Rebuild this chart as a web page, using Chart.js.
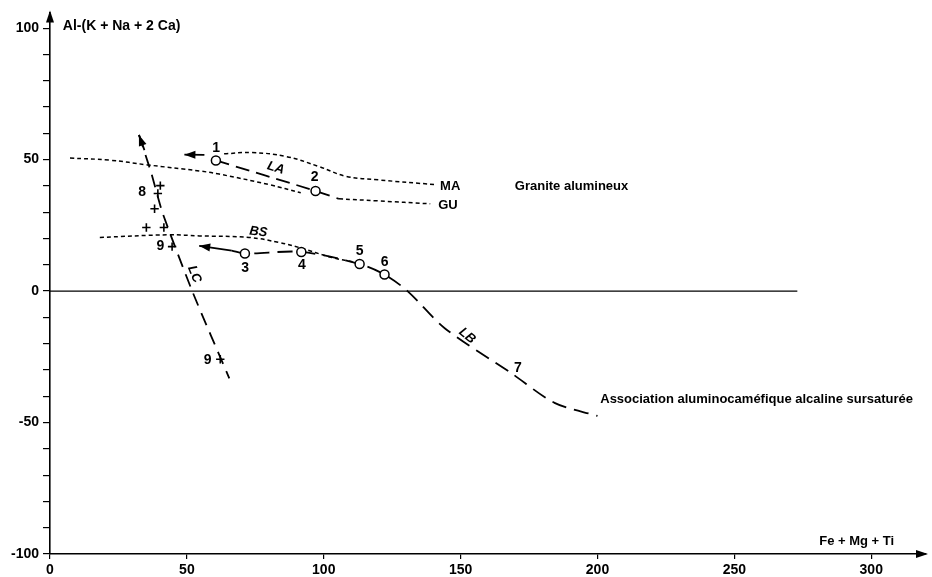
<!DOCTYPE html>
<html>
<head>
<meta charset="utf-8">
<script src="https://cdn.jsdelivr.net/npm/chart.js@4.4.1/dist/chart.umd.min.js"></script>
<style>
  html, body { margin: 0; padding: 0; background: #fff; }
  canvas { display: block; }
</style>
</head>
<body>
<canvas id="chart" width="932" height="577"></canvas>
<script>
// Axis ticks
const xTicks = [0, 50, 100, 150, 200, 250, 300];
const yTicks = [-100, -90, -80, -70, -60, -50, -40, -30, -20, -10, 0, 10, 20, 30, 40, 50, 60, 70, 80, 90, 100];
const yTickLabels = [-100, -50, 0, 50, 100];

// Samples: [Fe + Mg + Ti, Al-(K + Na + 2 Ca)]
const circlePts = [[60.6, 49.7], [97.0, 38.1], [71.2, 14.3], [91.8, 14.9], [113.1, 10.3], [122.2, 6.3]];
const crossPts = [[40.3, 40.1], [39.4, 37.1], [38.2, 31.3], [35.2, 24.2], [41.6, 24.2], [44.6, 16.9], [62.2, -25.9]];

// Reference curves (dotted)
const maCurve = [[63.6, 52.2], [73.8, 52.7], [86.2, 51.2], [98.2, 47.4], [108, 43.7], [120, 42.3], [140.7, 40.5]];
const guWest = [[7.3, 50.6], [21.8, 49.8], [35.6, 48.0], [54.5, 45.7], [61.8, 44.5], [80, 40.5], [91.6, 37.4]];
const guEast = [[105.5, 35.1], [120, 34.3], [138.9, 33.2]];
const bsCurve = [[18.2, 20.4], [43.6, 21.4], [54.5, 21.0], [72.7, 20.4], [83.6, 18.5], [90.9, 16.6], [102.9, 12.8], [111.6, 10.9]];

// Trends (dashed)
const laLine = [[60.6, 49.7], [97.0, 38.1], [105.5, 35.1]];
const lbLine = [[66.4, 15.4], [71.2, 14.3], [91.8, 14.9], [113.1, 10.3], [122.2, 6.3], [130.7, -0.1], [144.3, -14.2], [168.5, -31.2], [184.3, -42.5], [200, -47.5]];
const lcLine = [[32.5, 59.4], [37.0, 44.9], [41.1, 29.8], [52.1, -0.4], [65.5, -33.2]];
const zeroLine = [[0, 0], [273, 0]];

// Arrows: tail -> tip
const arrowLA = [[56.4, 51.8], [49.1, 51.9]];
const arrowLB = [[66.4, 15.4], [54.5, 17.2]];
const arrowLC = [[34.5, 53.6], [32.5, 59.4]];

// Text: [text, x, y]
const pointLabels = [
  ['1', 60.7, 54.3], ['2', 96.7, 43.4], ['3', 71.3, 8.7], ['4', 92, 9.8],
  ['5', 113.1, 15.1], ['6', 122.2, 10.9], ['7', 170.9, -29.4],
  ['8', 33.7, 37.7], ['9', 40.3, 17], ['9', 57.6, -26.2]
];
const sideLabels = [
  ['MA', 142.5, 40], ['GU', 141.8, 32.5],
  ['Granite alumineux', 169.8, 40],
  ['Association aluminocaméfique alcaline sursaturée', 201, -41.1],
  ['Al-(K + Na + 2 Ca)', 4.7, 100.8],
  ['Fe + Mg + Ti', 281, -95.4]
];
// [text, x, y, rotation in degrees]
const trendLabels = [['LA', 82.5, 46.8, 17], ['BS', 76.1, 22.5, 7], ['LC', 52.7, 6.4, 68], ['LB', 152.4, -17.0, 40]];

const toXY = arr => arr.map(p => ({ x: p[0], y: p[1] }));
const FONT = '"Liberation Sans", Arial, sans-serif';

function lineSet(pts, dash, width, tension) {
  return {
    data: toXY(pts),
    showLine: true,
    borderColor: '#000',
    borderWidth: width,
    borderDash: dash,
    pointRadius: 0,
    tension: tension,
    fill: false
  };
}

// draw a filled arrowhead pointing from (x0,y0) to (x1,y1)
function arrowHead(ctx, x0, y0, x1, y1, len, half) {
  const a = Math.atan2(y1 - y0, x1 - x0);
  ctx.beginPath();
  ctx.moveTo(x1, y1);
  ctx.lineTo(x1 - len * Math.cos(a) + half * Math.sin(a), y1 - len * Math.sin(a) - half * Math.cos(a));
  ctx.lineTo(x1 - len * Math.cos(a) - half * Math.sin(a), y1 - len * Math.sin(a) + half * Math.cos(a));
  ctx.closePath();
  ctx.fill();
}

const overlay = {
  id: 'overlay',
  afterDatasetsDraw(chart) {
    const { ctx, chartArea } = chart;
    const xs = chart.scales.x, ys = chart.scales.y;
    ctx.save();
    ctx.fillStyle = '#000';

    // axis arrows
    const ax = xs.getPixelForValue(0);
    const ay = ys.getPixelForValue(-100);
    arrowHead(ctx, ax, chartArea.top + 20, ax, chartArea.top - 2, 12, 4);
    arrowHead(ctx, chartArea.right - 20, ay, chartArea.right + 2, ay, 12, 4);

    // trend arrows
    [arrowLA, arrowLB, arrowLC].forEach(a => {
      arrowHead(ctx,
        xs.getPixelForValue(a[0][0]), ys.getPixelForValue(a[0][1]),
        xs.getPixelForValue(a[1][0]), ys.getPixelForValue(a[1][1]), 11, 4);
    });

    ctx.textBaseline = 'middle';
    ctx.font = 'bold 14px ' + FONT;
    ctx.textAlign = 'center';
    pointLabels.forEach(l => {
      ctx.fillText(l[0], xs.getPixelForValue(l[1]), ys.getPixelForValue(l[2]));
    });

    ctx.textAlign = 'left';
    sideLabels.forEach(l => {
      ctx.font = (l[0].startsWith('Al-') ? 'bold 14px ' : 'bold 13px ') + FONT;
      ctx.fillText(l[0], xs.getPixelForValue(l[1]), ys.getPixelForValue(l[2]));
    });

    ctx.font = 'italic bold 13px ' + FONT;
    ctx.textAlign = 'center';
    trendLabels.forEach(l => {
      ctx.save();
      ctx.translate(xs.getPixelForValue(l[1]), ys.getPixelForValue(l[2]));
      ctx.rotate(l[3] * Math.PI / 180);
      ctx.fillText(l[0], 0, 0);
      ctx.restore();
    });
    ctx.restore();
  }
};

new Chart(document.getElementById('chart'), {
  type: 'scatter',
  data: {
    datasets: [
      {
        data: toXY(circlePts),
        pointStyle: 'circle',
        pointRadius: 4.5,
        pointBackgroundColor: '#fff',
        pointBorderColor: '#000',
        pointBorderWidth: 1.5
      },
      {
        data: toXY(crossPts),
        pointStyle: 'cross',
        pointRadius: 4.2,
        pointBorderColor: '#000',
        pointBorderWidth: 1.6
      },
      lineSet(arrowLA, [], 1.8, 0),
      lineSet(arrowLB, [], 1.8, 0),
      lineSet(arrowLC, [], 1.8, 0),
      lineSet(laLine, [14, 7], 1.8, 0.2),
      lineSet(lbLine, [15, 8], 1.8, 0.3),
      lineSet(lcLine, [13, 8], 1.8, 0.2),
      lineSet(maCurve, [4, 3], 1.5, 0.4),
      lineSet(guWest, [4, 3], 1.5, 0.4),
      lineSet(guEast, [4, 3], 1.5, 0.4),
      lineSet(bsCurve, [4, 3], 1.5, 0.4),
      lineSet(zeroLine, [], 1.4, 0)
    ]
  },
  options: {
    responsive: false,
    animation: false,
    layout: { padding: { top: 8, right: 2, left: 0, bottom: 0 } },
    plugins: { legend: { display: false }, tooltip: { enabled: false } },
    scales: {
      x: {
        type: 'linear',
        min: 0,
        max: 320,
        afterBuildTicks: s => { s.ticks = xTicks.map(v => ({ value: v })); },
        afterFit: s => { s.height = 23; },
        ticks: { color: '#000', font: { family: FONT, weight: 'bold', size: 14 }, padding: 3, maxRotation: 0 },
        grid: { drawOnChartArea: false, drawTicks: true, tickLength: 5, color: '#000', lineWidth: 1.2 },
        border: { color: '#000', width: 1.6 }
      },
      y: {
        type: 'linear',
        min: -100,
        max: 106,
        afterBuildTicks: s => { s.ticks = yTicks.map(v => ({ value: v })); },
        afterFit: s => { s.width = 50; },
        ticks: {
          color: '#000',
          font: { family: FONT, weight: 'bold', size: 14 },
          padding: 4,
          callback: v => yTickLabels.includes(v) ? String(v) : ''
        },
        grid: { drawOnChartArea: false, drawTicks: true, tickLength: 7, color: '#000', lineWidth: 1.2 },
        border: { color: '#000', width: 1.6 }
      }
    }
  },
  plugins: [overlay]
});
</script>
</body>
</html>
